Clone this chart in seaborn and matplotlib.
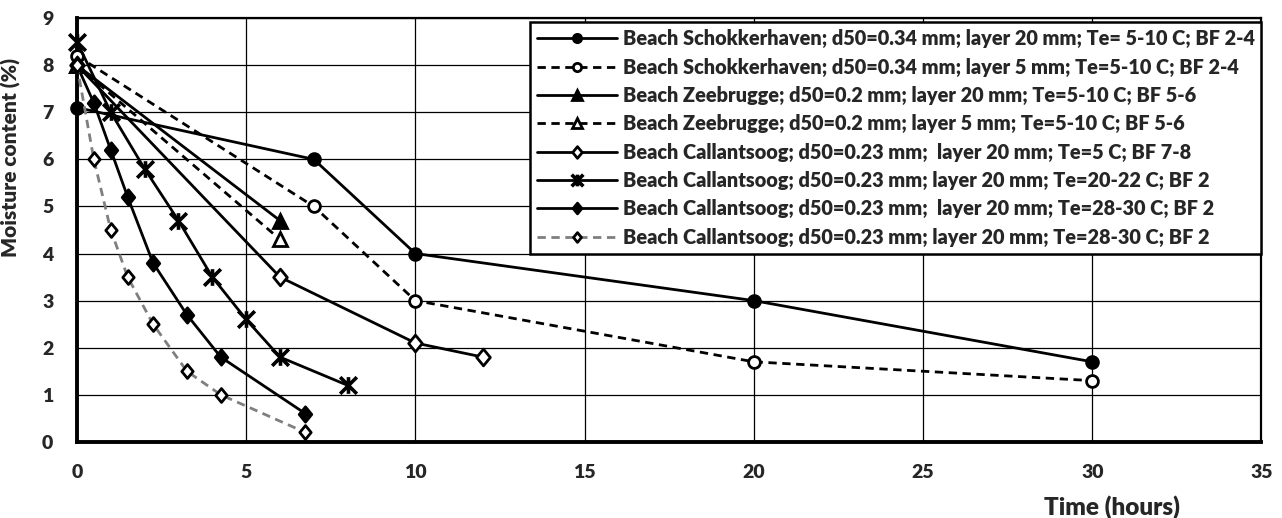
import matplotlib
matplotlib.use("Agg")
import matplotlib.pyplot as plt
from matplotlib.path import Path
import seaborn as sns

# Drying curves: time (hours) vs. moisture content (%)
labels = [
    "Beach Schokkerhaven; d50=0.34 mm; layer 20 mm; Te= 5-10 C; BF 2-4",
    "Beach Schokkerhaven; d50=0.34 mm; layer 5 mm; Te=5-10 C; BF 2-4",
    "Beach Zeebrugge; d50=0.2 mm; layer 20 mm; Te=5-10 C; BF 5-6",
    "Beach Zeebrugge; d50=0.2 mm; layer 5 mm; Te=5-10 C; BF 5-6",
    "Beach Callantsoog; d50=0.23 mm;  layer 20 mm; Te=5 C; BF 7-8",
    "Beach Callantsoog; d50=0.23 mm; layer 20 mm; Te=20-22 C; BF 2",
    "Beach Callantsoog; d50=0.23 mm;  layer 20 mm; Te=28-30 C; BF 2",
    "Beach Callantsoog; d50=0.23 mm; layer 20 mm; Te=28-30 C; BF 2",
]

schok20_t = [0, 7, 10, 20, 30]
schok20_m = [7.1, 6.0, 4.0, 3.0, 1.7]
schok5_t = [0, 7, 10, 20, 30]
schok5_m = [8.2, 5.0, 3.0, 1.7, 1.3]
zee20_t = [0, 6]
zee20_m = [8.0, 4.7]
zee5_t = [0, 6]
zee5_m = [8.0, 4.3]
cal5_t = [0, 6, 10, 12]
cal5_m = [8.0, 3.5, 2.1, 1.8]
cal20_t = [0, 1, 2, 3, 4, 5, 6, 8]
cal20_m = [8.5, 7.0, 5.8, 4.7, 3.5, 2.6, 1.8, 1.2]
cal28a_t = [0, 0.5, 1, 1.5, 2.25, 3.25, 4.25, 6.75]
cal28a_m = [8.0, 7.2, 6.2, 5.2, 3.8, 2.7, 1.8, 0.6]
cal28b_t = [0, 0.5, 1, 1.5, 2.25, 3.25, 4.25, 6.75]
cal28b_m = [8.0, 6.0, 4.5, 3.5, 2.5, 1.5, 1.0, 0.2]

x_ticks = [0, 5, 10, 15, 20, 25, 30, 35]
y_ticks = [0, 1, 2, 3, 4, 5, 6, 7, 8, 9]

sns.set_style("white")
plt.rcParams["font.family"] = ["Lato", "DejaVu Sans"]
plt.rcParams["font.weight"] = "heavy"
W = "heavy"

# Star marker: an X with a vertical stroke through it
star = Path(
    [(-1, -1), (1, 1), (-1, 1), (1, -1), (0, -1), (0, 1)],
    [Path.MOVETO, Path.LINETO, Path.MOVETO, Path.LINETO, Path.MOVETO, Path.LINETO],
)
# Diamond, a little taller than wide
diamond = Path(
    [(0, 1), (0.82, 0), (0, -1), (-0.82, 0), (0, 1)],
    [Path.MOVETO, Path.LINETO, Path.LINETO, Path.LINETO, Path.CLOSEPOLY],
)

fig = plt.figure(figsize=(12.82, 5.18), dpi=100)
ax = fig.add_axes([0.060, 0.147, 0.924, 0.818])

dash = (0, (3.0, 2.0))
series = [
    (schok20_t, schok20_m, dict(color="black", ls="-", marker="o", mfc="black", ms=8.5, mew=2.0)),
    (schok5_t, schok5_m, dict(color="black", ls=dash, marker="o", mfc="white", ms=8.5, mew=2.0)),
    (zee20_t, zee20_m, dict(color="black", ls="-", marker="^", mfc="black", ms=9.5, mew=2.0)),
    (zee5_t, zee5_m, dict(color="black", ls=dash, marker="^", mfc="white", ms=9.5, mew=2.0)),
    (cal5_t, cal5_m, dict(color="black", ls="-", marker=diamond, mfc="white", ms=12, mew=2.0)),
    (cal20_t, cal20_m, dict(color="black", ls="-", marker=star, mfc="black", ms=12, mew=2.6)),
    (cal28a_t, cal28a_m, dict(color="black", ls="-", marker=diamond, mfc="black", ms=11, mew=2.0)),
    (cal28b_t, cal28b_m, dict(color="#7f7f7f", ls=dash, marker=diamond, mfc="white", ms=10, mew=2.0)),
]

for (t, m, st), lab in zip(series, labels):
    sns.lineplot(
        x=t, y=m, ax=ax, sort=False, label=lab, estimator=None,
        color=st["color"], linestyle=st["ls"], linewidth=2.0,
        marker=st["marker"], markersize=st["ms"],
        markerfacecolor=st["mfc"], markeredgecolor="black",
        markeredgewidth=st["mew"], clip_on=False, zorder=3,
    )

ax.set_xlim(0, 35)
ax.set_ylim(0, 9)
ax.set_xticks(x_ticks)
ax.set_yticks(y_ticks)
ax.tick_params(axis="both", length=0, labelsize=14)
ax.tick_params(axis="x", pad=16)
ax.tick_params(axis="y", pad=17)
for lbl in ax.get_xticklabels() + ax.get_yticklabels():
    lbl.set_fontweight(W)

ax.grid(True, color="black", linewidth=0.9)
ax.set_axisbelow(True)
for side in ["left", "bottom"]:
    ax.spines[side].set_linewidth(2.8)
    ax.spines[side].set_color("black")
for side in ["top", "right"]:
    ax.spines[side].set_linewidth(1.6)
    ax.spines[side].set_color("black")

ax.set_xlabel("Time (hours)", fontsize=17.5, fontweight=W)
ax.set_ylabel("Moisture content (%)", fontsize=15, fontweight=W)
ax.xaxis.set_label_coords(0.874, -0.125)
ax.yaxis.set_label_coords(-0.047, 0.672)

leg = ax.legend(
    loc="upper right", bbox_to_anchor=(1.0, 0.99), fontsize=14.3,
    frameon=True, fancybox=False, framealpha=1, edgecolor="black",
    handlelength=4.0, handletextpad=0.3, labelspacing=0.47,
    borderpad=0.35, borderaxespad=0,
)
leg.get_frame().set_linewidth(1.8)
for txt in leg.get_texts():
    txt.set_fontweight(W)
for h in leg.get_lines():
    h.set_markersize(h.get_markersize() * 0.7)

fig.savefig("out.png", dpi=100)
